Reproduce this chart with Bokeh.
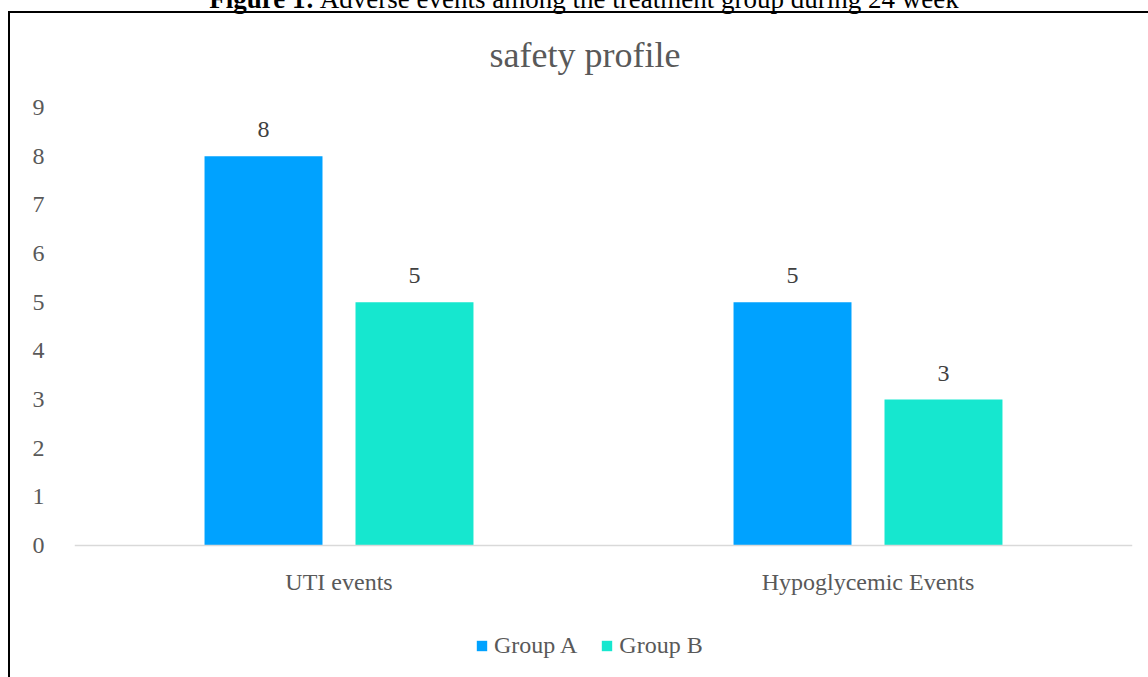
from bokeh.plotting import figure
from bokeh.models import ColumnDataSource, FactorRange, LabelSet, Legend, LegendItem, Div, Spacer
from bokeh.layouts import column, row
from bokeh.transform import dodge
from bokeh.embed import file_html
from bokeh.resources import INLINE

categories = ["UTI events", "Hypoglycemic Events"]
group_a = [8, 5]
group_b = [5, 3]
series_names = ["Group A", "Group B"]
colors = ["#00A2FF", "#16E7CF"]
y_ticks = [0, 1, 2, 3, 4, 5, 6, 7, 8, 9]

FONT = "Liberation Serif"

src = ColumnDataSource(dict(cat=categories, a=group_a, b=group_b,
                            a_txt=[str(v) for v in group_a],
                            b_txt=[str(v) for v in group_b]))

# frame: top = 9, extends below zero to leave room for category labels and legend
p = figure(width=1138, height=650, x_range=FactorRange(*categories), y_range=(-2.712, 9),
           output_backend="svg", toolbar_location=None,
           min_border_left=64, min_border_right=16, min_border_top=20, min_border_bottom=60)
p.outline_line_color = None
p.xgrid.grid_line_color = None
p.ygrid.grid_line_color = None

off = 0.1427
w = 0.223
ra = p.vbar(x=dodge("cat", -off, range=p.x_range), top="a", width=w, source=src,
            fill_color=colors[0], line_color=None)
rb = p.vbar(x=dodge("cat", off, range=p.x_range), top="b", width=w, source=src,
            fill_color=colors[1], line_color=None)

for xo, col in [(-off, "a"), (off, "b")]:
    ls = LabelSet(x=dodge("cat", xo, range=p.x_range), y=col, text=col + "_txt", source=src,
                  text_align="center", text_baseline="alphabetic", y_offset=19,
                  text_font=FONT, text_font_size="24px", text_color="#404040")
    p.add_layout(ls)

p.yaxis.ticker = y_ticks
p.yaxis.axis_line_color = None
p.yaxis.major_tick_line_color = None
p.yaxis.minor_tick_line_color = None
p.yaxis.major_label_standoff = 24
p.yaxis.major_label_text_font = FONT
p.yaxis.major_label_text_font_size = "24px"
p.yaxis.major_label_text_color = "#595959"

p.xaxis.fixed_location = 0
p.xaxis.axis_line_color = "#D9D9D9"
p.xaxis.axis_line_width = 1.5
p.xaxis.major_tick_line_color = None
p.xaxis.minor_tick_line_color = None
p.xaxis.major_label_standoff = 17
p.xaxis.major_label_text_font = FONT
p.xaxis.major_label_text_font_size = "24px"
p.xaxis.major_label_text_color = "#595959"

legend = Legend(items=[LegendItem(label=series_names[0], renderers=[ra]),
                       LegendItem(label=series_names[1], renderers=[rb])],
                orientation="horizontal", location=(401, 18),
                label_text_font=FONT, label_text_font_size="24px", label_text_color="#595959",
                glyph_width=13, glyph_height=13, label_standoff=6, spacing=23,
                padding=0, margin=0, border_line_color=None, background_fill_alpha=0,
                label_height=24)
p.add_layout(legend, "center")

title = Div(text='<div style="position:relative;left:6px;padding-top:24px;text-align:center;'
                 'font-family:\'Liberation Serif\';font-size:36px;line-height:36px;color:#595959;'
                 'width:1138px;white-space:nowrap;">safety profile</div>',
            width=1138, height=74, margin=0, styles={"overflow": "visible"})

box = column(title, p, spacing=0, margin=0,
             styles={"border-left": "2px solid #000", "border-top": "2px solid #000"})

cap = Div(text='<div style="position:relative;top:-14px;left:10px;text-align:center;'
               'font-family:\'Liberation Serif\';font-size:27px;line-height:27px;color:#000;'
               'width:1148px;white-space:nowrap;">'
               '<b>Figure 1:</b> Adverse events among the treatment group during 24 week</div>',
          width=1148, height=11, margin=0, styles={"overflow": "visible"})

layout = column(cap, row(Spacer(width=8, height=724, margin=0), box, spacing=0, margin=0),
                spacing=0, margin=0)

open("out.html", "w").write(file_html(layout, INLINE))
